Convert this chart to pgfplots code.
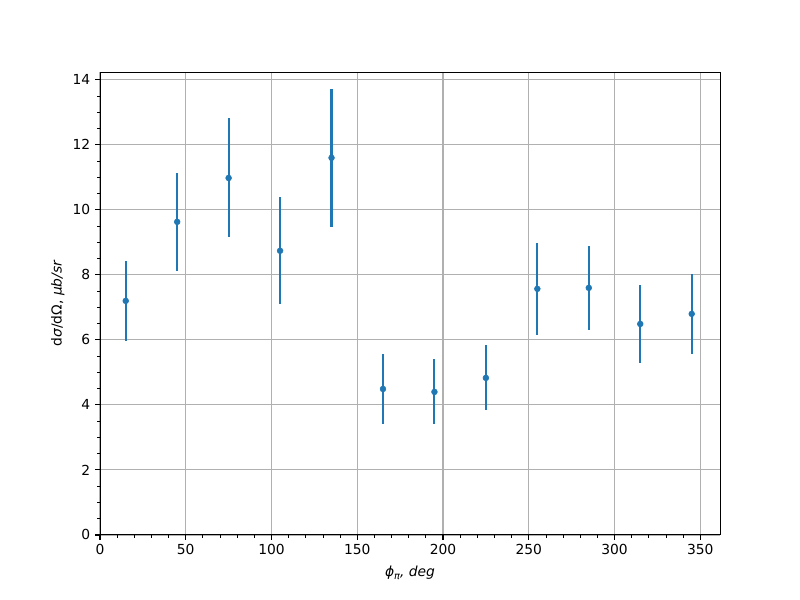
\documentclass[border=0pt]{standalone}
\usepackage{pgfplots}
\pgfplotsset{compat=1.18}
\usepackage{fontspec}
\setmainfont{DejaVu Sans}
\definecolor{mplblue}{HTML}{1F77B4}
\definecolor{gridgray}{HTML}{B0B0B0}
\begin{document}
\fontsize{10pt}{12pt}\selectfont
\begin{tikzpicture}
\begin{axis}[
  scale only axis,
  width=448.1pt, height=334.6pt,
  xmin=0, xmax=361.5, ymin=0, ymax=14.24,
  xtick={0,50,...,350}, ytick={0,2,...,14},
  minor x tick num=4, minor y tick num=3,
  grid=major,
  major grid style={gridgray, line width=0.8pt},
  axis line style={black, line width=0.7pt},
  tick align=outside,
  major tick length=3.5pt, minor tick length=2pt,
  every tick/.style={black, line width=0.8pt},
  minor tick style={line width=0.6pt},
  xtick pos=bottom, ytick pos=left,
  /pgf/number format/assume math mode=true,
  tick label style={font=\fontsize{10pt}{12pt}\selectfont},
  label style={font=\fontsize{10pt}{12pt}\selectfont},
  xlabel={{\itshape ϕ\raisebox{-0.35ex}{\fontsize{7pt}{8pt}\selectfont π}, deg}},
  ylabel={d{\itshape σ}/dΩ, {\itshape μb/sr}},
  xlabel style={yshift=-1pt},
  ylabel style={yshift=-1pt},
  clip=false,
]
\addplot[
  only marks, mark=*, mark size=2.1pt,
  mark options={draw=mplblue, fill=mplblue},
  color=mplblue,
  error bars/.cd, y dir=both, y explicit,
  error mark=none,
  error bar style={line width=1.5pt, mplblue},
] coordinates {
  (15,7.20) +- (0,1.24)
  (45,9.63) +- (0,1.50)
  (75,10.98) +- (0,1.83)
  (105,8.74) +- (0,1.65)
  (135,11.60) +- (0,2.12)
  (165,4.49) +- (0,1.07)
  (195,4.40) +- (0,1.00)
  (225,4.83) +- (0,1.00)
  (255,7.57) +- (0,1.42)
  (285,7.60) +- (0,1.29)
  (315,6.49) +- (0,1.21)
  (345,6.80) +- (0,1.22)
};
\coordinate (bl) at (rel axis cs:0,0);
\coordinate (tr) at (rel axis cs:1,1);
\end{axis}
\path ([shift={(-72.27pt,-46.98pt)}]bl) rectangle ([shift={(57.82pt,52.03pt)}]tr);
\end{tikzpicture}
\end{document}
